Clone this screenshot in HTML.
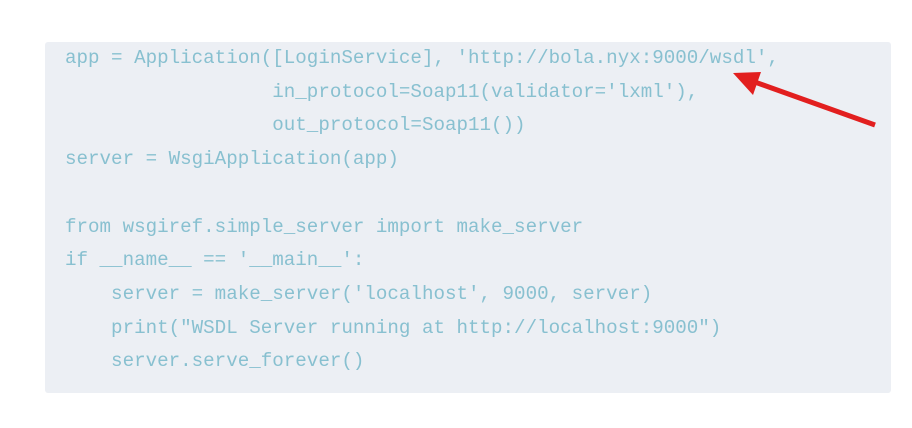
<!DOCTYPE html>
<html><head><meta charset="utf-8"><style>
html,body{margin:0;padding:0;background:#fff;width:912px;height:428px;overflow:hidden;position:relative}
.box{position:absolute;left:45px;top:42px;width:846px;height:351px;background:#eceff4;border-radius:3px}
pre{position:absolute;left:65px;top:42px;margin:0;font-family:"Liberation Mono",monospace;font-size:19.2px;line-height:33.72px;color:#88c0d0}
svg{position:absolute;left:0;top:0}
</style></head><body>
<div class="box"></div>
<pre>app = Application([LoginService], 'http://bola.nyx:9000/wsdl',
                  in_protocol=Soap11(validator='lxml'),
                  out_protocol=Soap11())
server = WsgiApplication(app)

from wsgiref.simple_server import make_server
if __name__ == '__main__':
    server = make_server('localhost', 9000, server)
    print("WSDL Server running at http://localhost:9000")
    server.serve_forever()</pre>
<svg width="912" height="428"><line x1="875" y1="125" x2="752" y2="81" stroke="#e21f1f" stroke-width="5"/><polygon points="733,73 761,72 753,95" fill="#e21f1f"/></svg>
</body></html>
